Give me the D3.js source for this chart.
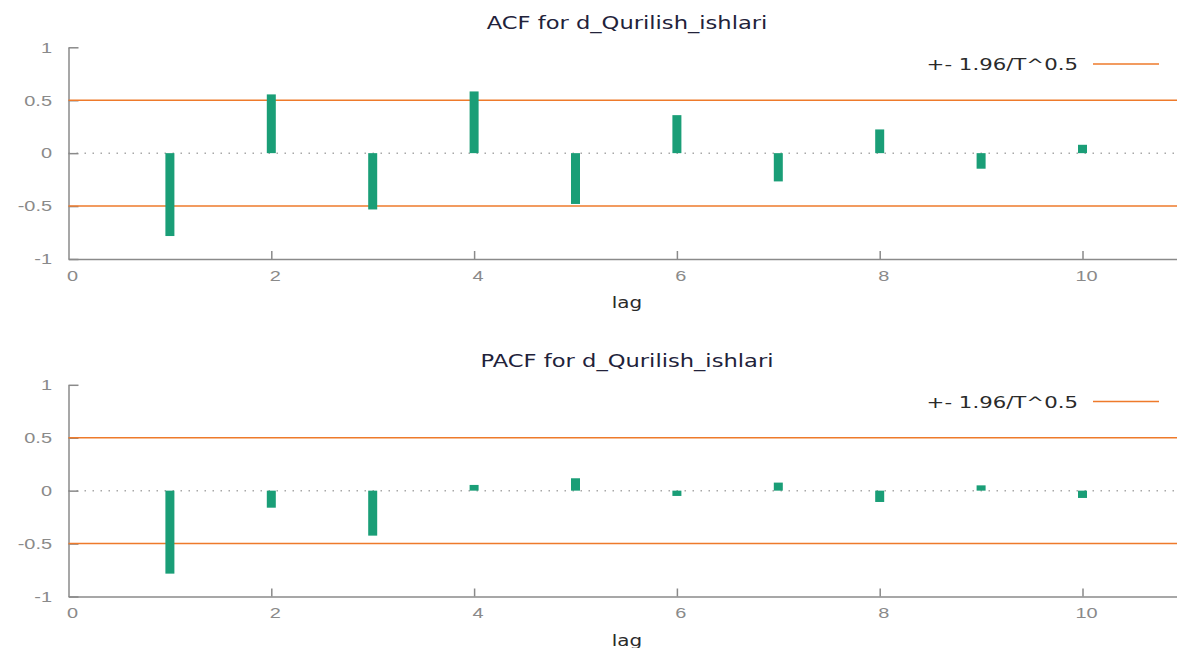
<!DOCTYPE html>
<html>
<head>
<meta charset="utf-8">
<script src="https://d3js.org/d3.v7.min.js"></script>
<style>
    body { margin: 0; background: #fff; }
    svg { display: block; font-family: "DejaVu Sans", Verdana, sans-serif; }
    .axis path, .axis line { stroke: #8a8a8a; stroke-width: 1.5px; }
    .axis text { fill: #8a8a8a; font-size: 15px; }
    .title { fill: #22223a; font-size: 17px; }
    .xlabel { fill: #2a2a2a; font-size: 15px; }
    .legend { fill: #2a2a2a; font-size: 16px; }
</style>
</head>
<body>
<script>
    // data
    var lags = [1, 2, 3, 4, 5, 6, 7, 8, 9, 10];
    var acfValues = [-0.783, 0.555, -0.532, 0.583, -0.48, 0.359, -0.267, 0.224, -0.147, 0.079];
    var pacfValues = [-0.784, -0.161, -0.425, 0.054, 0.117, -0.05, 0.076, -0.107, 0.05, -0.069];
    var yTicks = [-1, -0.5, 0, 0.5, 1];
    var band = 0.5; // +- 1.96/T^0.5
    var titles = ["ACF for d_Qurilish_ishlari", "PACF for d_Qurilish_ishlari"];
    var legendText = "+- 1.96/T^0.5";

    const W = 1177, H = 648;
    const stretch = 1.33; // picture text is wider than the font
    const green = "#1a9e77", orange = "#ee7a2b";

    var svg = d3.select("body").append("svg").attr("width", W).attr("height", H);

    var x = d3.scaleLinear().domain([0, 11]).range([68.5, 68.5 + 11 * 101.4]);

    function panel(values, title, top) {
        var g = svg.append("g").attr("transform", "translate(0," + top + ")");
        var y = d3.scaleLinear().domain([-1, 1]).range([259, 47.3]);

        // title
        g.append("text").attr("class", "title")
            .attr("transform", "translate(627," + 29 + ") scale(" + stretch + ",1)")
            .attr("text-anchor", "middle").text(title);

        // zero line, dotted
        g.append("line")
            .attr("x1", x(0)).attr("x2", W)
            .attr("y1", y(0)).attr("y2", y(0))
            .attr("stroke", "#a8a8a8").attr("stroke-width", 1.5)
            .attr("stroke-dasharray", "1.5,6.5");

        // axes, ticks pointing inward
        var yAxis = d3.axisLeft(y).tickValues(yTicks).tickSize(-10).tickSizeOuter(0)
            .tickPadding(0).tickFormat(function (d) { return String(d); });
        var ya = g.append("g").attr("class", "axis").attr("transform", "translate(" + x(0) + ",0)").call(yAxis);
        ya.selectAll("text").attr("x", -16.5 / stretch).attr("transform", "scale(" + stretch + ",1)");

        var xAxis = d3.axisBottom(x).ticks(5).tickSize(-8).tickSizeOuter(0).tickPadding(0);
        var xa = g.append("g").attr("class", "axis").attr("transform", "translate(0," + y(-1) + ")").call(xAxis);
        xa.selectAll("text").attr("x", 3.5 / stretch).attr("y", 11).attr("dy", "0.71em")
            .attr("transform", "scale(" + stretch + ",1)");
        xa.selectAll(".tick").filter(function (d) { return d === 0; }).select("line").remove();

        // confidence band lines
        g.append("g").selectAll("line").data([band, -band]).enter().append("line")
            .attr("x1", x(0)).attr("x2", W)
            .attr("y1", function (d) { return y(d); })
            .attr("y2", function (d) { return y(d); })
            .attr("stroke", orange).attr("stroke-width", 1.5);

        // bars
        g.append("g").selectAll("rect").data(values).enter().append("rect")
            .attr("x", function (d, i) { return x(lags[i]) - 4.5; })
            .attr("width", 9)
            .attr("y", function (d) { return Math.min(y(d), y(0)); })
            .attr("height", function (d) { return Math.abs(y(d) - y(0)); })
            .attr("fill", green);

        // legend
        g.append("text").attr("class", "legend")
            .attr("transform", "translate(1078,70) scale(" + stretch + ",1)")
            .attr("text-anchor", "end").text(legendText);
        g.append("line").attr("x1", 1093).attr("x2", 1159).attr("y1", 64).attr("y2", 64)
            .attr("stroke", orange).attr("stroke-width", 1.5);

        // x label
        g.append("text").attr("class", "xlabel")
            .attr("transform", "translate(627,308) scale(" + stretch + ",1)")
            .attr("text-anchor", "middle").text("lag");
    }

    panel(acfValues, titles[0], 0);
    panel(pacfValues, titles[1], 337.5);
</script>
</body>
</html>
